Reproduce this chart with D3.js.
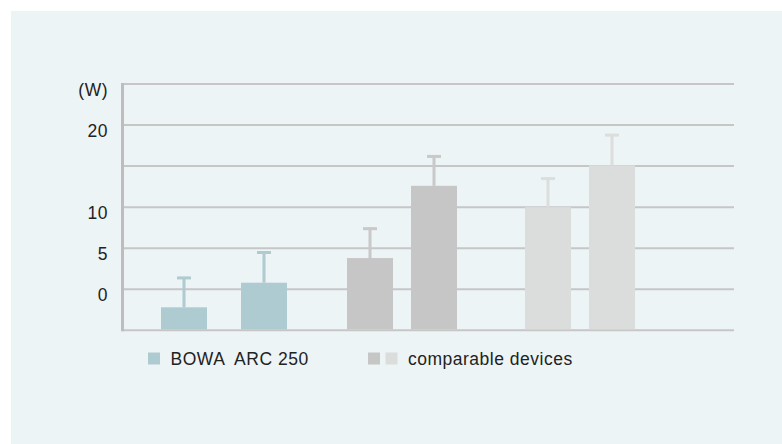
<!DOCTYPE html>
<html>
<head>
<meta charset="utf-8">
<script src="https://cdn.jsdelivr.net/npm/d3@7"></script>
<style>
  html, body { margin: 0; padding: 0; background: #ffffff; }
  svg { display: block; }
  text { font-family: "Liberation Sans", Arial, Helvetica, sans-serif; }
</style>
</head>
<body>
<svg id="chart" width="782" height="444"></svg>
<script>
// ---- data ----
const categories = ["BOWA 1", "BOWA 2", "Comparable A1", "Comparable A2", "Comparable B1", "Comparable B2"];
const groups = ["bowa", "bowa", "compA", "compA", "compB", "compB"];
const values = [-2.2, 0.8, 3.8, 12.6, 10.0, 15.1];
const errorTops = [1.5, 4.6, 7.5, 16.3, 13.6, 18.9];
const tickValues = [-5, 0, 5, 10, 15, 20, 25];
const tickLabels = ["", "0", "5", "10", "", "20", "(W)"];
const legendLabels = ["BOWA  ARC 250", "comparable devices"];

// ---- styles ----
const colors = { bowa: "#adcbd0", compA: "#c5c6c5", compB: "#dbdcdc" };
const capColors = { bowa: "#afcbd0", compA: "#c8c9c8", compB: "#dcdddd" };
const fontSize = 17.5, letterSp = 0.5, textColor = "#222";

const svg = d3.select("#chart");
svg.append("rect").attr("x", 11).attr("y", 11).attr("width", 771).attr("height", 433).attr("fill", "#edf4f6");

const y = d3.scaleLinear().domain([-5, 25]).range([330.3, 84]);
// bar centres (pixel layout of groups)
const x = d3.scaleOrdinal().domain(categories).range([184, 264, 370, 434, 548, 612]);
const barW = 46;

// gridlines
const gridX0 = 123, gridX1 = 734;
svg.append("g").selectAll("line").data(tickValues).join("line")
  .attr("x1", gridX0).attr("x2", gridX1)
  .attr("y1", d => y(d)).attr("y2", d => y(d))
  .attr("stroke", "#c6c6c6").attr("stroke-width", 2);

// axis line
svg.append("line").attr("x1", 122.5).attr("x2", 122.5)
  .attr("y1", y(25) - 1).attr("y2", y(-5) + 1)
  .attr("stroke", "#bdbdbd").attr("stroke-width", 3);

// tick labels
svg.append("g").selectAll("text").data(tickValues).join("text")
  .attr("x", 108).attr("y", d => y(d) + 11.5)
  .attr("text-anchor", "end")
  .attr("font-size", fontSize).attr("letter-spacing", letterSp).attr("fill", textColor)
  .text((d, i) => tickLabels[i]);

// bars
const data = categories.map((c, i) => ({ c, g: groups[i], v: values[i], e: errorTops[i] }));
svg.append("g").selectAll("rect").data(data).join("rect")
  .attr("x", d => x(d.c) - barW / 2).attr("width", barW)
  .attr("y", d => y(d.v)).attr("height", d => y(-5) - y(d.v) - 1)
  .attr("fill", d => colors[d.g]);

// error bars
const eg = svg.append("g");
eg.selectAll("line.stem").data(data).join("line").attr("class", "stem")
  .attr("x1", d => x(d.c)).attr("x2", d => x(d.c))
  .attr("y1", d => y(d.v)).attr("y2", d => y(d.e))
  .attr("stroke", d => capColors[d.g]).attr("stroke-width", 3);
eg.selectAll("line.cap").data(data).join("line").attr("class", "cap")
  .attr("x1", d => x(d.c) - 7).attr("x2", d => x(d.c) + 7)
  .attr("y1", d => y(d.e) + 1).attr("y2", d => y(d.e) + 1)
  .attr("stroke", d => capColors[d.g]).attr("stroke-width", 3);

// legend
const lg = svg.append("g");
lg.append("rect").attr("x", 148).attr("y", 352.5).attr("width", 12).attr("height", 12).attr("fill", colors.bowa);
lg.append("text").attr("x", 170.5).attr("y", 364.5).attr("font-size", fontSize).attr("letter-spacing", letterSp).attr("fill", textColor)
  .attr("xml:space", "preserve").style("white-space", "pre").text(legendLabels[0]);
lg.append("rect").attr("x", 368).attr("y", 352.5).attr("width", 12).attr("height", 12).attr("fill", colors.compA);
lg.append("rect").attr("x", 385.5).attr("y", 352.5).attr("width", 12).attr("height", 12).attr("fill", colors.compB);
lg.append("text").attr("x", 408).attr("y", 364.5).attr("font-size", fontSize).attr("letter-spacing", letterSp).attr("fill", textColor).text(legendLabels[1]);
</script>
</body>
</html>
